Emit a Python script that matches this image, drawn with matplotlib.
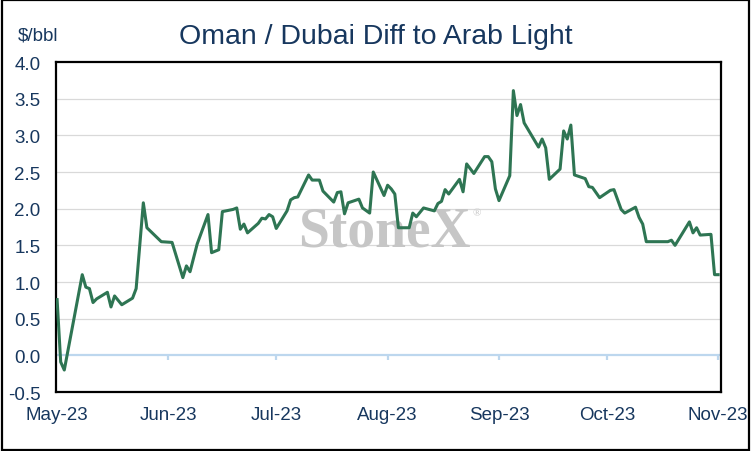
import matplotlib
matplotlib.use('Agg')
import matplotlib.pyplot as plt
import matplotlib.dates as mdates
from matplotlib.patches import Rectangle
import pandas as pd

dates = ['2023-05-01', '2023-05-02', '2023-05-03', '2023-05-08', '2023-05-09', '2023-05-10',
         '2023-05-11', '2023-05-12', '2023-05-15', '2023-05-16', '2023-05-17', '2023-05-19',
         '2023-05-22', '2023-05-23', '2023-05-25', '2023-05-26', '2023-05-30', '2023-06-02',
         '2023-06-05', '2023-06-06', '2023-06-07', '2023-06-09', '2023-06-12', '2023-06-13',
         '2023-06-15', '2023-06-16', '2023-06-19', '2023-06-20', '2023-06-21', '2023-06-22',
         '2023-06-23', '2023-06-26', '2023-06-27', '2023-06-28', '2023-06-29', '2023-06-30',
         '2023-07-01', '2023-07-04', '2023-07-05', '2023-07-06', '2023-07-07', '2023-07-10',
         '2023-07-11', '2023-07-13', '2023-07-14', '2023-07-17', '2023-07-18', '2023-07-19',
         '2023-07-20', '2023-07-21', '2023-07-24', '2023-07-25', '2023-07-27', '2023-07-28',
         '2023-07-31', '2023-08-01', '2023-08-02', '2023-08-03', '2023-08-04', '2023-08-07',
         '2023-08-08', '2023-08-09', '2023-08-11', '2023-08-14', '2023-08-15', '2023-08-16',
         '2023-08-17', '2023-08-18', '2023-08-21', '2023-08-22', '2023-08-23', '2023-08-25',
         '2023-08-28', '2023-08-29', '2023-08-30', '2023-08-31', '2023-09-01', '2023-09-04',
         '2023-09-05', '2023-09-06', '2023-09-07', '2023-09-08', '2023-09-12', '2023-09-13',
         '2023-09-14', '2023-09-15', '2023-09-18', '2023-09-19', '2023-09-20', '2023-09-21',
         '2023-09-22', '2023-09-25', '2023-09-26', '2023-09-27', '2023-09-29', '2023-10-02',
         '2023-10-03', '2023-10-05', '2023-10-06', '2023-10-09', '2023-10-10', '2023-10-11',
         '2023-10-12', '2023-10-18', '2023-10-19', '2023-10-20', '2023-10-24', '2023-10-25',
         '2023-10-26', '2023-10-27', '2023-10-30', '2023-10-31', '2023-11-01']
values = [0.76, -0.09, -0.20, 1.10, 0.93, 0.91,
          0.72, 0.77, 0.86, 0.66, 0.81, 0.69,
          0.78, 0.91, 2.08, 1.74, 1.55, 1.54,
          1.06, 1.22, 1.14, 1.52, 1.92, 1.40,
          1.44, 1.96, 1.99, 2.01, 1.72, 1.79,
          1.67, 1.80, 1.87, 1.86, 1.92, 1.89,
          1.73, 1.97, 2.12, 2.15, 2.16, 2.46,
          2.39, 2.39, 2.24, 2.09, 2.22, 2.23,
          1.93, 2.08, 2.13, 2.01, 1.94, 2.50,
          2.18, 2.32, 2.27, 2.20, 1.74, 1.74,
          1.94, 1.89, 2.01, 1.97, 2.07, 2.10,
          2.26, 2.20, 2.40, 2.23, 2.61, 2.48,
          2.71, 2.71, 2.64, 2.27, 2.11, 2.45,
          3.61, 3.27, 3.42, 3.17, 2.84, 2.95,
          2.83, 2.40, 2.54, 3.06, 2.95, 3.14,
          2.46, 2.41, 2.30, 2.29, 2.15, 2.25,
          2.26, 1.99, 1.94, 2.02, 1.88, 1.79,
          1.55, 1.55, 1.57, 1.50, 1.82, 1.67,
          1.74, 1.64, 1.65, 1.10, 1.10]

title = 'Oman / Dubai Diff to Arab Light'
unit = '$/bbl'
yticks = [-0.5, 0.0, 0.5, 1.0, 1.5, 2.0, 2.5, 3.0, 3.5, 4.0]

navy = '#17375E'
green = '#2E7553'
plt.rcParams['font.family'] = ['Liberation Sans', 'DejaVu Sans']

x = pd.to_datetime(dates)
months = pd.date_range('2023-05-01', '2023-11-01', freq='MS')

fig = plt.figure(figsize=(7.52, 4.52), dpi=100)
fig.patches.append(Rectangle((0.002, 0.003), 0.994, 0.994, transform=fig.transFigure,
                             fill=False, edgecolor='black', linewidth=1.6))
ax = fig.add_axes([0.0745, 0.1305, 0.8843, 0.7301])

ax.set_ylim(-0.5, 4.0)
ax.set_xlim(pd.Timestamp('2023-05-01') - pd.Timedelta(days=0.3),
            pd.Timestamp('2023-11-01') + pd.Timedelta(days=0.8))
ax.set_yticks(yticks)
ax.set_yticklabels([f'{v:.1f}' for v in yticks])
for v in yticks[2:-1]:
    ax.axhline(v, color='#D9D9D9', linewidth=0.9, zorder=1)

# zero line with small month ticks, like the excel category axis
ax.axhline(0, color='#BDD7EE', linewidth=1.6, zorder=2)
ax.vlines(months[1:], -0.07, 0, color='#BDD7EE', linewidth=1.6, zorder=2)

ax.plot(x, values, color=green, linewidth=2.2, zorder=4)

ax.text(0.494, 0.445, 'StoneX', transform=ax.transAxes, ha='center', va='baseline',
        fontsize=40, family='Liberation Serif', weight='bold', color='#C6C6C6', zorder=3)
ax.text(0.632, 0.535, '®', transform=ax.transAxes, ha='center', va='baseline',
        fontsize=8, family='Liberation Serif', color='#C6C6C6', zorder=3)

ax.set_xticks(months)
ax.xaxis.set_major_formatter(mdates.DateFormatter('%b-%y'))
ax.tick_params(axis='x', length=0, pad=10, labelsize=13.5, labelcolor=navy)
ax.tick_params(axis='y', length=0, pad=11, labelsize=13.5, labelcolor=navy)
for s in ax.spines.values():
    s.set_linewidth(1.6)
    s.set_color('black')

fig.text(0.5, 1 - 44 / 452, title, ha='center', va='baseline', fontsize=20.5, color=navy)
fig.text(18 / 752, 1 - 41 / 452, unit, ha='left', va='baseline', fontsize=13.5, color=navy)

fig.savefig('out.png', dpi=100)
